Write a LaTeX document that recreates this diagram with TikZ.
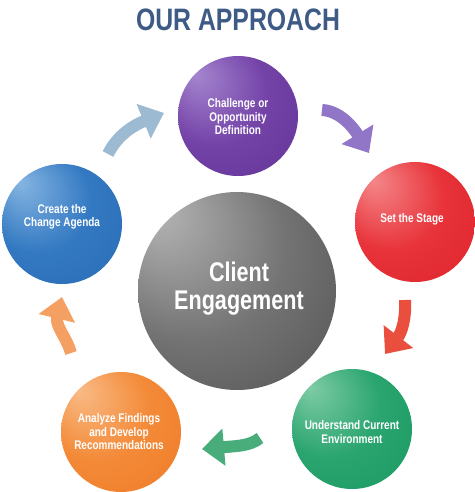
\documentclass[tikz,border=0pt]{standalone}
\usepackage{fontspec}
\usetikzlibrary{arrows.meta}
\newfontfamily\cond[FakeStretch=0.8]{Liberation Sans}
% sphere colours
\definecolor{titleblue}{HTML}{3D5B84}
\definecolor{pBase}{HTML}{5C2D91}\definecolor{pMid}{HTML}{7443A8}\definecolor{pHl}{HTML}{A586CF}
\definecolor{rBase}{HTML}{D81E25}\definecolor{rMid}{HTML}{E8333A}\definecolor{rHl}{HTML}{F4888A}
\definecolor{gBase}{HTML}{15935C}\definecolor{gMid}{HTML}{2AA56F}\definecolor{gHl}{HTML}{7FCCA6}
\definecolor{oBase}{HTML}{EE7621}\definecolor{oMid}{HTML}{F38A38}\definecolor{oHl}{HTML}{F9BB86}
\definecolor{bBase}{HTML}{2566B0}\definecolor{bMid}{HTML}{3379C2}\definecolor{bHl}{HTML}{86B5E2}
\definecolor{kBase}{HTML}{474747}\definecolor{kMid}{HTML}{737373}\definecolor{kHl}{HTML}{B8B8B8}
% arrow colours
\definecolor{aBlue}{HTML}{9DBAD3}
\definecolor{aPurple}{HTML}{9175C6}
\definecolor{aRed}{HTML}{EA4F3E}
\definecolor{aGreen}{HTML}{48AD7A}
\definecolor{aOrange}{HTML}{F4A062}
\pgfdeclareradialshading{pShade}{\pgfpoint{-18bp}{18bp}}{color(0bp)=(pHl); color(22bp)=(pMid); color(50bp)=(pBase)}
\pgfdeclareradialshading{rShade}{\pgfpoint{-18bp}{18bp}}{color(0bp)=(rHl); color(22bp)=(rMid); color(50bp)=(rBase)}
\pgfdeclareradialshading{gShade}{\pgfpoint{-18bp}{18bp}}{color(0bp)=(gHl); color(22bp)=(gMid); color(50bp)=(gBase)}
\pgfdeclareradialshading{oShade}{\pgfpoint{-18bp}{18bp}}{color(0bp)=(oHl); color(22bp)=(oMid); color(50bp)=(oBase)}
\pgfdeclareradialshading{bShade}{\pgfpoint{-18bp}{18bp}}{color(0bp)=(bHl); color(22bp)=(bMid); color(50bp)=(bBase)}
\pgfdeclareradialshading{kShade}{\pgfpoint{-22bp}{22bp}}{color(0bp)=(kHl); color(24bp)=(kMid); color(50bp)=(kBase)}
\begin{document}
\begin{tikzpicture}[x=1pt,y=-1pt,
  sphere/.style={circle, draw=none, inner sep=0pt, minimum size=120pt},
  bigsphere/.style={circle, draw=none, inner sep=0pt, minimum size=198pt},
  small/.style={text=white, align=center, inner sep=0pt,
    font=\cond\bfseries\fontsize{12.5}{13.5}\selectfont},
  bigtext/.style={text=white, align=center, inner sep=0pt,
    font=\cond\bfseries\fontsize{27}{28}\selectfont},
  titletext/.style={text=titleblue, inner sep=0pt, anchor=base,
    font=\cond\bfseries\fontsize{31}{32}\selectfont},
  flow/.style={line width=12pt, -{Triangle[width=36pt,length=22pt]}}]
\useasboundingbox (0,0) rectangle (474,492);
\fill[white] (0,0) rectangle (474,492);

\node[titletext] (title) at (238,31) {OUR APPROACH};

% spheres
\node[bigsphere, shading=kShade] (client) at (237,291) {};
\node[sphere, shading=pShade] (challenge) at (238,116) {};
\node[sphere, shading=rShade] (stage) at (415,222) {};
\node[sphere, shading=gShade] (understand) at (352,429) {};
\node[sphere, shading=oShade] (analyze) at (121,432) {};
\node[sphere, shading=bShade] (create) at (62,224) {};

% texts
\node[bigtext] (tclient) at (239,289) {Client\\Engagement};
\node[small] (tchallenge) at (238,117) {Challenge or\\Opportunity\\Definition};
\node[small] (tstage) at (412,219) {Set the Stage};
\node[small] (tunderstand) at (352,432) {Understand Current\\Environment};
\node[small] (tanalyze) at (119,432) {Analyze Findings\\and Develop\\Recommendations};
\node[small] (tcreate) at (62,217) {Create the\\Change Agenda};

% arrow end points
\coordinate (a1s) at (108,154); \coordinate (a1e) at (164,113);
\coordinate (a2s) at (322,110); \coordinate (a2e) at (369,153);
\coordinate (a3s) at (405,300); \coordinate (a3e) at (385,354);
\coordinate (a4s) at (260,438); \coordinate (a4e) at (202,449);
\coordinate (a5s) at (71,353);  \coordinate (a5e) at (62,297);

\draw[flow, aBlue]   (a1s) .. controls (117,136) and (132,126) .. (a1e);
\draw[flow, aPurple] (a2s) .. controls (340,111) and (353,127) .. (a2e);
\draw[flow, aRed]    (a3s) .. controls (406,318) and (402,332) .. (a3e);
\draw[flow, aGreen]  (a4s) .. controls (250,446) and (237,446) .. (a4e);
\draw[flow, aOrange] (a5s) .. controls (67,338) and (55,326) .. (a5e);
\end{tikzpicture}
\end{document}
